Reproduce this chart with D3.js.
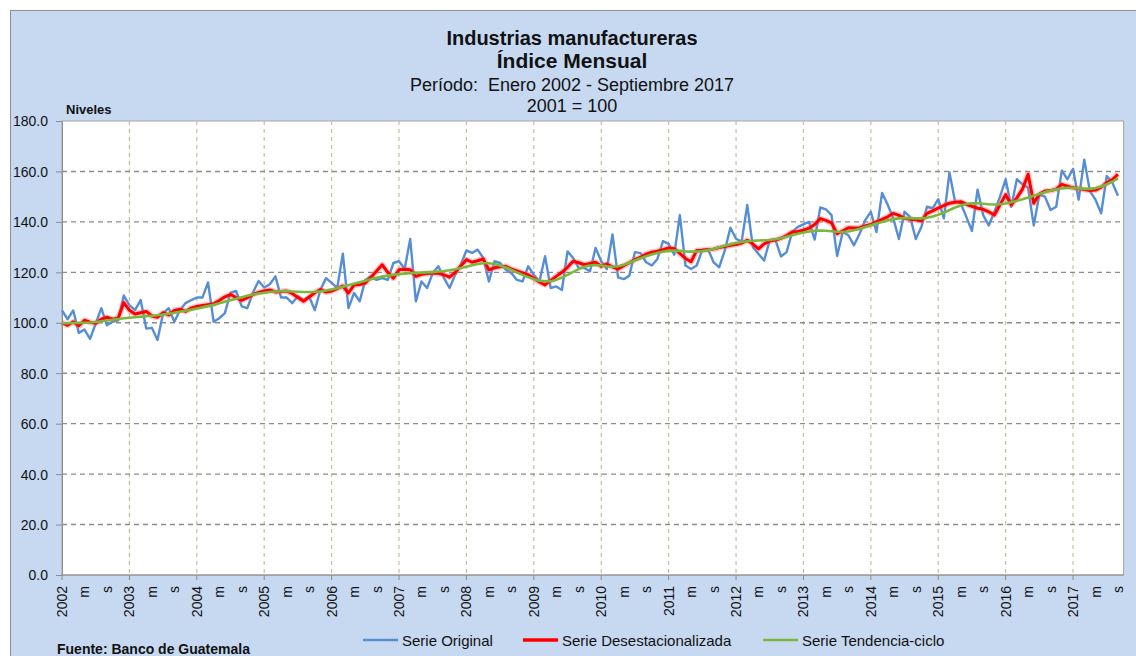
<!DOCTYPE html>
<html><head><meta charset="utf-8">
<script src="https://cdn.jsdelivr.net/npm/d3@7"></script>
<style>
body{margin:0;background:#fff}
svg{display:block}
text{font-family:"Liberation Sans",Arial,sans-serif;fill:#111}
</style>
</head><body>
<svg id="chart" width="1136" height="656"></svg>
<script>
// ---- data ----
const years = ["2002","2003","2004","2005","2006","2007","2008","2009","2010","2011","2012","2013","2014","2015","2016","2017"];
const monthMarks = ["", "", "", "", "m", "", "", "", "s", "", "", ""];
const yTicks = [0, 20, 40, 60, 80, 100, 120, 140, 160, 180];

const serieOriginal = [
  104.9,101.4,104.9,96.0,97.3,93.6,99.7,105.8,99.0,100.4,101.0,110.8,
  107.0,105.0,109.0,97.7,98.0,93.2,103.8,105.8,100.4,105.0,107.8,109.0,
  110.0,110.0,116.0,100.4,101.8,103.8,111.9,112.6,106.5,105.8,112.0,116.6,
  114.0,115.3,118.4,110.0,110.0,107.8,110.5,109.0,110.4,105.0,113.0,117.7,
  115.8,113.8,127.4,105.8,111.8,108.5,117.0,118.4,117.0,117.7,117.0,123.7,
  124.4,121.3,133.2,108.5,116.4,113.8,119.7,122.4,117.7,113.8,119.0,123.0,
  128.7,127.7,129.0,125.7,116.4,124.4,123.7,121.0,119.7,117.0,116.4,122.4,
  119.0,116.4,126.4,113.8,114.4,113.0,128.3,125.7,121.7,121.7,120.4,129.7,
  124.4,121.3,135.0,118.0,117.3,118.7,128.0,127.6,124.0,122.7,125.3,132.4,
  131.3,127.0,142.7,122.7,121.3,122.7,129.0,129.3,124.0,122.0,128.7,137.7,
  133.3,132.2,146.7,130.0,127.3,124.7,132.7,133.0,126.3,128.0,136.0,138.0,
  139.0,140.0,133.0,145.7,145.0,142.7,126.5,136.0,134.7,130.7,135.3,140.7,
  144.0,136.0,151.5,146.8,141.4,133.2,144.0,142.0,133.2,138.0,146.0,145.4,
  149.0,141.4,159.6,148.0,147.4,142.0,136.4,152.8,142.7,138.6,144.0,150.0,
  156.9,146.0,156.9,154.9,153.5,138.6,150.8,150.0,144.7,146.0,160.3,156.9,
  161.0,148.8,164.7,152.2,148.8,143.4,158.2,155.5,150.4
];
const serieDesestacionalizada = [
  100.0,99.0,100.4,98.8,101.0,100.2,99.8,101.4,102.2,101.4,101.8,108.0,
  105.0,103.5,104.0,104.5,102.7,102.2,104.0,103.1,104.9,105.4,104.5,105.8,
  106.5,106.9,107.2,107.5,108.8,110.3,111.2,110.0,108.9,110.0,111.2,112.0,
  112.6,113.0,112.2,112.4,112.6,111.6,110.0,108.5,110.2,111.9,113.2,112.2,
  112.6,113.5,114.6,111.8,115.0,115.2,115.8,118.0,120.5,123.0,120.0,117.7,
  121.0,121.2,121.0,118.4,119.2,119.5,119.7,119.6,119.0,118.1,120.0,122.5,
  125.0,124.0,124.6,125.3,121.0,121.8,122.2,122.4,121.3,120.6,119.8,119.0,
  117.6,116.2,115.0,116.8,118.4,120.0,122.0,124.4,123.8,123.0,123.5,124.0,
  122.4,123.3,122.2,121.3,122.6,123.8,125.0,126.0,127.2,128.0,128.4,129.0,
  129.7,129.4,127.5,125.5,124.2,128.7,128.8,129.0,129.2,129.8,130.2,130.7,
  131.0,131.6,132.7,131.2,129.3,131.3,132.4,132.8,133.5,134.6,136.0,136.2,
  136.7,137.5,139.0,141.3,140.6,139.6,135.3,136.4,137.7,137.6,137.7,138.4,
  139.0,140.0,141.0,142.0,143.4,142.6,141.4,141.0,140.8,140.4,143.4,144.4,
  145.5,146.5,147.4,147.8,148.0,147.0,146.2,145.4,145.0,144.0,142.7,146.8,
  150.8,146.8,149.5,153.0,158.9,147.4,151.0,152.2,152.4,153.0,154.9,154.2,
  153.5,153.2,152.8,152.4,152.6,153.8,155.5,156.8,158.9
];
const serieTendencia = [
  99.8,99.8,99.9,99.9,100.0,100.1,100.3,100.6,100.9,101.2,101.5,101.8,
  102.0,102.2,102.4,102.6,102.8,103.0,103.3,103.6,104.0,104.4,104.8,105.2,
  105.6,106.1,106.6,107.1,107.7,108.3,108.9,109.5,110.1,110.7,111.2,111.6,
  111.9,112.2,112.4,112.5,112.5,112.4,112.3,112.2,112.2,112.3,112.5,112.8,
  113.2,113.7,114.3,114.9,115.5,116.1,116.7,117.3,117.8,118.3,118.7,119.0,
  119.3,119.5,119.7,119.8,119.9,120.0,120.1,120.3,120.5,120.8,121.2,121.7,
  122.2,122.8,123.3,123.6,123.6,123.3,122.7,121.9,121.0,120.0,119.0,118.1,
  117.3,116.7,116.4,116.5,117.0,117.9,119.0,120.2,121.3,122.2,122.7,122.9,
  122.7,122.4,122.2,122.4,123.0,123.8,124.7,125.6,126.4,127.1,127.7,128.2,
  128.5,128.6,128.5,128.3,128.2,128.2,128.4,128.8,129.3,129.9,130.5,131.1,
  131.6,132.0,132.3,132.5,132.6,132.7,132.8,133.1,133.5,134.1,134.7,135.3,
  135.8,136.2,136.5,136.6,136.5,136.3,136.1,136.0,136.2,136.7,137.3,138.0,
  138.7,139.4,140.0,140.6,141.1,141.4,141.5,141.5,141.4,141.4,141.6,142.1,
  142.8,143.7,144.7,145.7,146.5,147.1,147.4,147.4,147.2,147.0,146.9,147.0,
  147.3,147.8,148.4,149.0,149.7,150.4,151.1,151.8,152.4,152.9,153.3,153.5,
  153.5,153.3,153.1,153.1,153.4,154.0,154.9,156.0,157.3
];
const legendItems = [
  {name: "Serie Original", color: "#558ed5"},
  {name: "Serie Desestacionalizada", color: "#ff0000"},
  {name: "Serie Tendencia-ciclo", color: "#7ab83c"}
];

// ---- layout ----
const svg = d3.select("#chart");
const plot = {left: 62, right: 1123.6, top: 121, bottom: 575};

svg.append("rect").attr("x", 10.5).attr("y", 10.5).attr("width", 1130).attr("height", 660)
  .attr("fill", "#c6d9f1").attr("stroke", "#8e8e8e").attr("stroke-width", 1);

const x = d3.scaleLinear().domain([0, 189]).range([plot.left, plot.right]);
const y = d3.scaleLinear().domain([0, 180]).range([plot.bottom, plot.top]);

svg.append("rect").attr("x", plot.left).attr("y", plot.top)
  .attr("width", plot.right - plot.left).attr("height", plot.bottom - plot.top)
  .attr("fill", "#fff").attr("stroke", "#a6a6a6").attr("stroke-width", 1);

// vertical year gridlines
const yearIdx = years.map((d, i) => i * 12);
svg.append("g").selectAll("line").data(yearIdx.slice(1)).join("line")
  .attr("x1", d => x(d)).attr("x2", d => x(d))
  .attr("y1", plot.top).attr("y2", plot.bottom)
  .attr("stroke", "#c9bf9f").attr("stroke-width", 1.2).attr("stroke-dasharray", "4,4");

// horizontal gridlines
svg.append("g").selectAll("line").data(yTicks.filter(v => v > 0 && v < 180)).join("line")
  .attr("x1", plot.left).attr("x2", plot.right)
  .attr("y1", d => y(d)).attr("y2", d => y(d))
  .attr("stroke", "#8c8c8c").attr("stroke-width", 1.4).attr("stroke-dasharray", "5,4");

// axes
const yAxis = d3.axisLeft(y).tickValues(yTicks).tickSize(6).tickFormat(d => d3.format(".1f")(d));
const gy = svg.append("g").attr("transform", `translate(${plot.left},0)`).call(yAxis);
gy.select(".domain").attr("stroke", "#8c8c8c");
gy.selectAll(".tick line").attr("stroke", "#8c8c8c");
gy.selectAll(".tick text").attr("x", -14).attr("dy", "0.35em")
  .style("font-size", "14px").style("font-family", "'Liberation Sans', Arial, sans-serif").attr("fill", "#111");

svg.append("line").attr("x1", plot.left).attr("x2", plot.right)
  .attr("y1", plot.bottom).attr("y2", plot.bottom).attr("stroke", "#8c8c8c");
svg.append("g").selectAll("line").data(yearIdx).join("line")
  .attr("x1", d => x(d)).attr("x2", d => x(d))
  .attr("y1", plot.bottom).attr("y2", plot.bottom + 5).attr("stroke", "#8c8c8c");

// x tick labels (rotated)
const xLabels = [];
years.forEach((yr, yi) => {
  monthMarks.forEach((m, mi) => {
    const idx = yi * 12 + mi;
    if (idx > 188) return;
    if (mi === 0) xLabels.push({i: idx, t: yr});
    else if (m) xLabels.push({i: idx, t: m});
  });
});
svg.append("g").selectAll("text").data(xLabels).join("text")
  .attr("transform", d => `translate(${x(d.i) + 5},${plot.bottom + 11}) rotate(-90)`)
  .attr("text-anchor", "end")
  .style("font-size", "14px")
  .text(d => d.t);

// lines
const line = d3.line().x((d, i) => x(i)).y(d => y(d));
svg.append("path").datum(serieOriginal).attr("d", line).attr("fill", "none")
  .attr("stroke", legendItems[0].color).attr("stroke-width", 2.4).attr("stroke-linejoin", "round");
svg.append("path").datum(serieDesestacionalizada).attr("d", line).attr("fill", "none")
  .attr("stroke", "#ff6060").attr("stroke-opacity", 0.35).attr("stroke-width", 6).attr("stroke-linejoin", "round");
svg.append("path").datum(serieDesestacionalizada).attr("d", line).attr("fill", "none")
  .attr("stroke", legendItems[1].color).attr("stroke-width", 3).attr("stroke-linejoin", "round");
svg.append("path").datum(serieTendencia).attr("d", line).attr("fill", "none")
  .attr("stroke", legendItems[2].color).attr("stroke-width", 2.6).attr("stroke-linejoin", "round");

// titles
const cx = 572;
svg.append("text").attr("x", cx).attr("y", 45).attr("text-anchor", "middle")
  .style("font-size", "20px").style("font-weight", "bold").text("Industrias manufactureras");
svg.append("text").attr("x", cx).attr("y", 68).attr("text-anchor", "middle")
  .style("font-size", "21px").style("font-weight", "bold").text("Índice Mensual");
svg.append("text").attr("x", cx).attr("y", 91).attr("text-anchor", "middle")
  .style("font-size", "18px").style("white-space", "pre").text("Período:  Enero 2002 - Septiembre 2017");
svg.append("text").attr("x", cx).attr("y", 112).attr("text-anchor", "middle")
  .style("font-size", "18px").text("2001 = 100");
svg.append("text").attr("x", 66).attr("y", 114)
  .style("font-size", "13px").style("font-weight", "bold").text("Niveles");

// legend
const legendX = [363, 523, 763];
const lg = svg.append("g").selectAll("g").data(legendItems).join("g")
  .attr("transform", (d, i) => `translate(${legendX[i]},640)`);
lg.append("line").attr("x1", 0).attr("x2", 35).attr("y1", 0).attr("y2", 0)
  .attr("stroke", d => d.color).attr("stroke-width", (d, i) => i === 1 ? 3.5 : 2.6);
lg.append("text").attr("x", 39).attr("y", 6).style("font-size", "15px").text(d => d.name);

svg.append("text").attr("x", 57).attr("y", 654)
  .style("font-size", "14px").style("font-weight", "bold").text("Fuente: Banco de Guatemala");
</script>
</body></html>
